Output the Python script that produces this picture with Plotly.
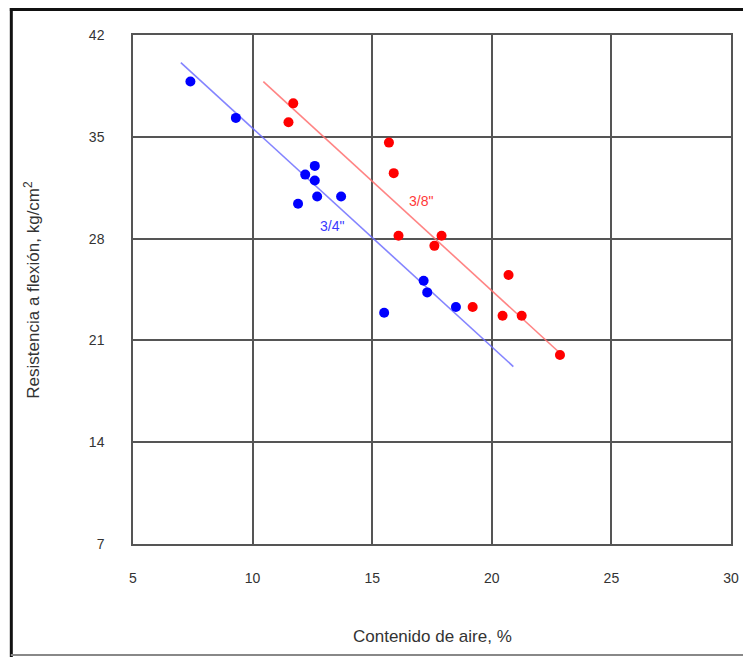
import plotly.graph_objects as go

# Data
blue_x = [7.4, 9.3, 12.6, 12.2, 12.6, 12.7, 11.9, 13.7, 17.15, 17.3, 18.5, 15.5]
blue_y = [38.8, 36.3, 33.0, 32.4, 32.0, 30.9, 30.4, 30.9, 25.1, 24.3, 23.3, 22.9]
red_x = [11.7, 11.5, 15.7, 15.9, 16.1, 17.9, 17.6, 20.7, 19.2, 20.45, 21.25, 22.85]
red_y = [37.3, 36.0, 34.6, 32.5, 28.2, 28.2, 27.5, 25.5, 23.3, 22.7, 22.7, 20.0]
blue_fit_x = [7.0, 20.9]
blue_fit_y = [40.1, 19.2]
red_fit_x = [10.45, 22.8]
red_fit_y = [38.8, 20.2]
x_ticks = [5, 10, 15, 20, 25, 30]
y_ticks = [7, 14, 21, 28, 35, 42]
label_blue = "3/4\""
label_red = "3/8\""

OFF = 8  # page body margin
W, H = 751 - OFF, 657 - OFF
L, R, T, B = 133 - OFF, 735 - OFF, 35 - OFF, 544 - OFF
FONT = "Liberation Sans, Arial"

fig = go.Figure()
fig.add_trace(go.Scatter(x=blue_fit_x, y=blue_fit_y, mode="lines",
                         line=dict(color="rgba(110,110,255,0.85)", width=1.6),
                         hoverinfo="skip", showlegend=False))
fig.add_trace(go.Scatter(x=red_fit_x, y=red_fit_y, mode="lines",
                         line=dict(color="rgba(255,110,110,0.85)", width=1.6),
                         hoverinfo="skip", showlegend=False))
fig.add_trace(go.Scatter(x=blue_x, y=blue_y, mode="markers",
                         marker=dict(color="#0000ff", size=10, line=dict(width=0)),
                         showlegend=False))
fig.add_trace(go.Scatter(x=red_x, y=red_y, mode="markers",
                         marker=dict(color="#ff0000", size=10, line=dict(width=0)),
                         showlegend=False))

fig.add_annotation(x=13.3, y=28.85, text=label_blue, showarrow=False,
                   xanchor="center", yanchor="middle",
                   font=dict(family=FONT, size=14, color="#3a3aff"))
fig.add_annotation(x=17.05, y=30.6, text=label_red, showarrow=False,
                   xanchor="center", yanchor="middle",
                   font=dict(family=FONT, size=14, color="#ff3a3a"))

def px(xp):
    return (xp - OFF - L) / (R - L)

def py(yp):
    return (B - (yp - OFF)) / (B - T)

# axis titles
fig.add_annotation(xref="paper", yref="paper", x=px(434), y=py(636),
                   xanchor="center", yanchor="middle",
                   text="Contenido de aire, %", showarrow=False,
                   font=dict(family=FONT, size=17, color="#333333"))
fig.add_annotation(xref="paper", yref="paper", x=px(31), y=py(290),
                   xanchor="center", yanchor="middle",
                   text="Resistencia a flexión, kg/cm<sup>2</sup>", showarrow=False, textangle=-90,
                   font=dict(family=FONT, size=17, color="#333333"))

# image frame
fig.add_shape(type="line", xref="paper", yref="paper", x0=px(9), x1=px(751), y0=py(9.5), y1=py(9.5),
              line=dict(color="#111111", width=3))
fig.add_shape(type="line", xref="paper", yref="paper", x0=px(10.5), x1=px(10.5), y0=py(8), y1=py(657),
              line=dict(color="#111111", width=3))
fig.add_shape(type="line", xref="paper", yref="paper", x0=px(10), x1=px(751), y0=py(655), y1=py(655),
              line=dict(color="#888888", width=2))

fig.update_xaxes(range=[5, 30], tickvals=x_ticks, ticktext=[str(v) for v in x_ticks],
                 showgrid=True, gridcolor="#555555", gridwidth=1.5,
                 showline=True, linecolor="#555555", linewidth=1.5, mirror=True,
                 zeroline=False, ticks="", ticklabelstandoff=20,
                 tickfont=dict(family=FONT, size=14, color="#333333"))
fig.update_yaxes(range=[7, 42], tickvals=y_ticks, ticktext=[str(v) for v in y_ticks],
                 showgrid=True, gridcolor="#555555", gridwidth=1.5,
                 showline=True, linecolor="#555555", linewidth=1.5, mirror=True,
                 zeroline=False, ticks="", ticklabelstandoff=24,
                 tickfont=dict(family=FONT, size=14, color="#333333"))

fig.update_layout(width=W, height=H, margin=dict(l=L, r=W - R, t=T, b=H - B),
                  plot_bgcolor="white", paper_bgcolor="white", showlegend=False)

fig.write_html("out.html")
